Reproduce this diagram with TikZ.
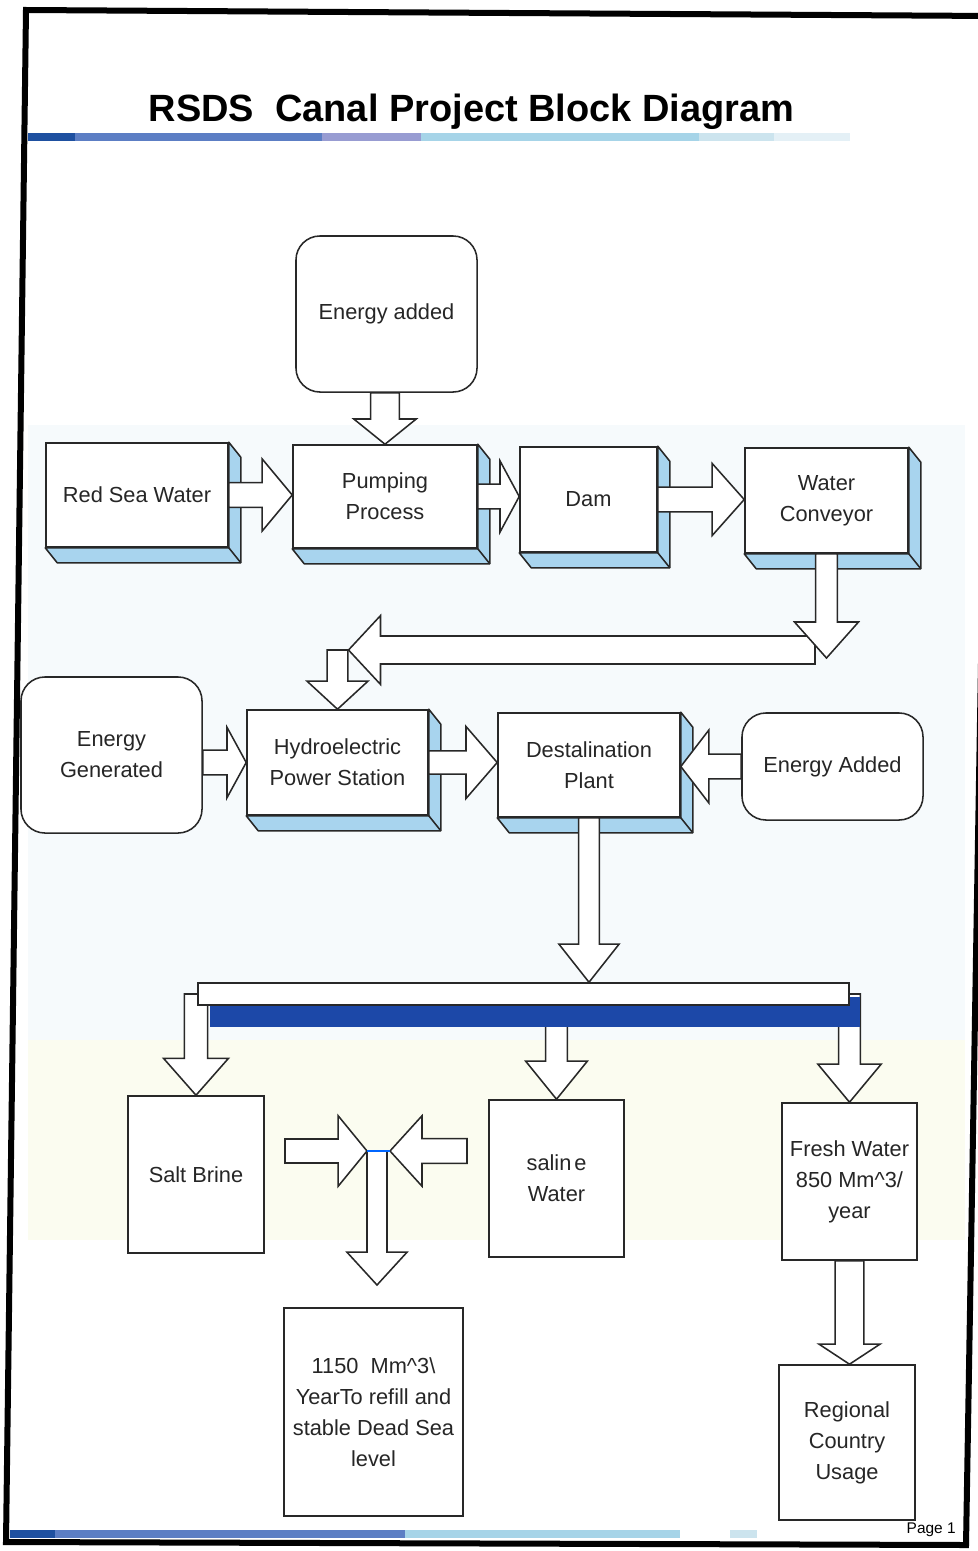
\documentclass[tikz,border=0pt]{standalone}
\usepackage{fontspec}
\setmainfont{Liberation Sans}
\usetikzlibrary{calc}
\definecolor{linec}{RGB}{40,40,40}
\definecolor{sidec}{RGB}{168,212,238}
\definecolor{barc}{RGB}{28,72,168}
\definecolor{tintb}{RGB}{246,250,252}
\definecolor{tinty}{RGB}{251,252,240}
\definecolor{ruleA}{RGB}{30,80,160}
\definecolor{ruleB}{RGB}{92,126,196}
\definecolor{ruleC}{RGB}{152,156,210}
\definecolor{ruleD}{RGB}{166,212,232}
\definecolor{ruleE}{RGB}{204,228,238}
\definecolor{ruleF}{RGB}{228,240,246}
\def\blksw{0.3cm}\def\blkhw{0.875cm}\def\blkhl{0.75cm}
\tikzset{
  box/.style    = {draw=linec, fill=white, line width=1.1pt, align=center, inner sep=2pt,
                   font=\fontsize{15.5}{22}\selectfont, text=black!85},
  rbox/.style   = {box, rounded corners=0.6cm},
  side/.style   = {draw=linec, fill=sidec, line width=1.1pt, line join=round},
  shaftw/.code  = {\def\blksw{#1}},
  headw/.code   = {\def\blkhw{#1}},
  headl/.code   = {\def\blkhl{#1}},
  blk/.style    = {draw=linec, fill=white, line width=1.1pt, line join=miter,
    to path={($(\tikztostart)!\blksw!90:(\tikztotarget)$)
      -- ($(\tikztotarget)!\blkhl!(\tikztostart)!\blksw!-90:(\tikztostart)$)
      -- ($(\tikztotarget)!\blkhl!(\tikztostart)!\blkhw!-90:(\tikztostart)$)
      -- (\tikztotarget)
      -- ($(\tikztotarget)!\blkhl!(\tikztostart)!\blkhw!90:(\tikztostart)$)
      -- ($(\tikztotarget)!\blkhl!(\tikztostart)!\blksw!90:(\tikztostart)$)
      -- ($(\tikztostart)!\blksw!-90:(\tikztotarget)$) -- cycle}},
}
\begin{document}
\begin{tikzpicture}[x=0.025cm, y=-0.025cm]
\useasboundingbox (0,0) rectangle (978,1551);
\clip (0,0) rectangle (978,1551);

% ---- page ----
\fill[white] (0,0) rectangle (978,1551);
\fill[tintb] (28,425) rectangle (965,1040);
\fill[tinty] (28,1040) rectangle (965,1240);
\fill[ruleA] (28,133) rectangle (75,141);
\fill[ruleB] (75,133) rectangle (322,141);
\fill[ruleC] (322,133) rectangle (421,141);
\fill[ruleD] (421,133) rectangle (699,141);
\fill[ruleE] (699,133) rectangle (774,141);
\fill[ruleF] (774,133) rectangle (850,141);
\fill[ruleA] (10,1530) rectangle (55,1538);
\fill[ruleB] (55,1530) rectangle (405,1538);
\fill[ruleD] (405,1530) rectangle (680,1538);
\fill[ruleE] (730,1530) rectangle (757,1538);

\node[font=\fontsize{27}{32}\selectfont\bfseries, anchor=base] (title) at (471.5,121)
  {RSDS\ \ Canal Project Block Diagram};
\node[font=\fontsize{11}{13}\selectfont, anchor=base east, inner sep=0] (pagenum) at (956,1533) {Page 1};

% ---- blocks ----
\node[rbox, minimum width=4.525cm, minimum height=3.9cm] (energyin) at (386.5,314) {Energy added};
\node[box, minimum width=4.55cm, minimum height=2.6cm] (redsea) at (137,495) {Red Sea Water};
\node[box, minimum width=4.6cm, minimum height=2.575cm] (pump) at (385,496.5) {Pumping\\Process};
\node[box, minimum width=3.425cm, minimum height=2.625cm] (dam) at (588.5,499.5) {Dam};
\node[box, minimum width=4.075cm, minimum height=2.625cm] (conveyor) at (826.5,500.5) {Water\\Conveyor};
\node[rbox, minimum width=4.525cm, minimum height=3.9cm] (egen) at (111.5,755) {Energy\\Generated};
\node[box, minimum width=4.525cm, minimum height=2.625cm] (hydro) at (337.5,762.5) {Hydroelectric\\Power Station};
\node[box, minimum width=4.55cm, minimum height=2.6cm] (desal) at (589,765) {Destalination\\Plant};
\node[rbox, minimum width=4.525cm, minimum height=2.675cm] (eadd) at (832.5,766.5) {Energy Added};
\node[box, minimum width=3.4cm, minimum height=3.925cm] (salt) at (196,1174.5) {Salt Brine};
\node[box, minimum width=3.375cm, minimum height=3.925cm] (saline) at (556.5,1178.5) {salin\kern2pt e\\Water};
\node[box, minimum width=3.375cm, minimum height=3.925cm] (fresh) at (849.5,1181.5)
  {Fresh Water\\850 Mm\textasciicircum3/\\year};
\node[box, minimum width=4.475cm, minimum height=5.2cm] (dead) at (373.5,1412)
  {1150\ \ Mm\textasciicircum3\textbackslash\\YearTo refill and\\stable Dead Sea\\level};
\node[box, minimum width=3.4cm, minimum height=3.875cm] (regional) at (847,1442.5) {Regional\\Country\\Usage};

\foreach \b in {redsea,pump,dam,conveyor,hydro,desal} {
  \filldraw[side] (\b.north east) -- ++(12,15) -- ($(\b.south east)+(12,15)$)
    -- ($(\b.south west)+(12,15)$) -- (\b.south west) -- (\b.south east) -- cycle;
  \draw[side] (\b.south east) -- ++(12,15);
}

% ---- splitter bar ----
\coordinate (barc) at (523.5,994);
\draw[blk, shaftw=0.29cm, headw=0.81cm, headl=0.92cm] (barc -| salt.north) to (salt.north);
\draw[blk, shaftw=0.27cm, headw=0.77cm, headl=0.95cm] (barc -| saline.north) to (saline.north);
\draw[blk, shaftw=0.27cm, headw=0.79cm, headl=0.95cm] (barc -| fresh.north) to (fresh.north);
\node[fill=barc, minimum width=16.25cm, minimum height=0.75cm, inner sep=0] (barshadow) at (535,1012) {};
\node[draw=linec, fill=white, line width=1.1pt, minimum width=16.275cm, minimum height=0.55cm, inner sep=0]
  (bar) at (barc) {};

% ---- arrows ----
\coordinate (loopR) at (815,650);
\coordinate (loopL) at (hydro.north |- loopR);
\draw[blk, shaftw=0.36cm, headw=0.78cm, headl=0.63cm] (pump.north |- energyin.south) to (pump.north);
\draw[blk, shaftw=0.31cm, headw=0.9cm, headl=0.75cm] (redsea.east) to (redsea.east -| pump.west);
\draw[blk, shaftw=0.31cm, headw=0.89cm, headl=0.48cm] (pump.east) to (pump.east -| dam.west);
\draw[blk, shaftw=0.31cm, headw=0.9cm, headl=0.8cm] (dam.east) to (dam.east -| conveyor.west);
\draw[blk, shaftw=0.35cm, headw=0.86cm, headl=0.8cm] (loopR) to ($(loopL)+(11,0)$);
\draw[blk, shaftw=0.27cm, headw=0.8cm, headl=0.9cm] (conveyor.south) to ($(conveyor.south |- loopR)+(0,8)$);
\draw[blk, shaftw=0.26cm, headw=0.76cm, headl=0.7cm] (loopL) to (hydro.north);
\draw[blk, shaftw=0.31cm, headw=0.88cm, headl=0.48cm] (egen.east |- hydro.west) to (hydro.west);
\draw[blk, shaftw=0.29cm, headw=0.9cm, headl=0.78cm] (hydro.east) to (hydro.east -| desal.west);
\draw[blk, shaftw=0.31cm, headw=0.91cm, headl=0.7cm] (eadd.west) to (eadd.west -| desal.east);
\draw[blk, shaftw=0.26cm, headw=0.75cm, headl=0.95cm] (desal.south) to (bar.north -| desal.south);

% ---- mixing to the Dead Sea ----
\coordinate (brinein) at (285,1151);
\coordinate (salinein) at (467,1151);
\coordinate (mixl) at (367,1151);
\coordinate (mixr) at (390,1151);
\coordinate (mix) at (377,1151);
\coordinate (deadin) at (377,1285);
\draw[blk, shaftw=0.3cm, headw=0.88cm, headl=0.72cm] (brinein) to (mixl);
\draw[blk, shaftw=0.31cm, headw=0.88cm, headl=0.8cm] (salinein) to (mixr);
\draw[blk, shaftw=0.25cm, headw=0.75cm, headl=0.82cm] (mix) to (deadin);
\draw[blue!60!cyan, line width=1.1pt] (mixl) -- (mixr);
\draw[blk, shaftw=0.36cm, headw=0.76cm, headl=0.5cm] (fresh.south) to (fresh.south |- regional.north);

% ---- frame ----
\draw[black, line width=0.15cm, line join=miter] (26,10) -- (992,16) -- (966,1545) -- (6,1542) -- cycle;
\end{tikzpicture}
\end{document}
